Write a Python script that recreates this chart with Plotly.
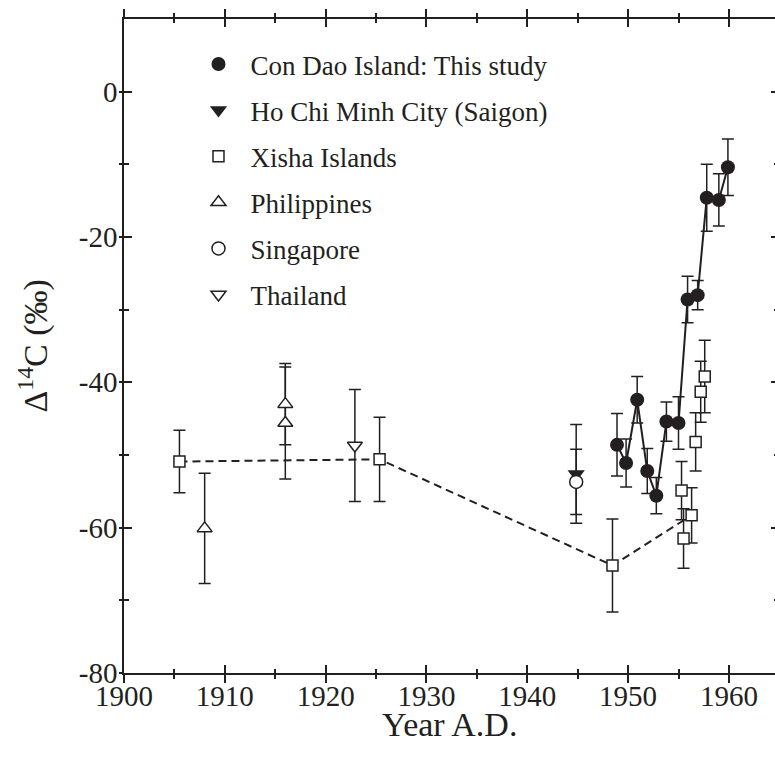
import plotly.graph_objects as go

# ---------------- data ----------------
condao_year = [1948.9, 1949.8, 1950.9, 1951.9, 1952.8, 1953.8, 1955.0, 1955.9, 1956.9, 1957.8, 1959.0, 1959.9]
condao_d14c = [-48.6, -51.1, -42.4, -52.2, -55.6, -45.4, -45.6, -28.6, -28.0, -14.6, -14.9, -10.4]
condao_err = [4.3, 3.3, 3.2, 3.1, 2.5, 2.7, 3.6, 3.2, 2.0, 4.6, 3.6, 3.9]

hcmc_year = [1944.85]
hcmc_d14c = [-52.6]
hcmc_err = [6.8]

xisha_year = [1905.5, 1925.35, 1948.45, 1955.3, 1955.5, 1956.3, 1956.7, 1957.2, 1957.6]
xisha_d14c = [-50.9, -50.6, -65.2, -54.9, -61.5, -58.3, -48.2, -41.3, -39.2]
xisha_err = [4.3, 5.8, 6.4, 4.0, 4.1, 3.8, 4.0, 4.2, 5.0]

xisha_trend_year = [1905.5, 1925.35, 1948.45, 1956.3]
xisha_trend_d14c = [-50.9, -50.6, -65.2, -58.3]

phil_year = [1908.0, 1916.0, 1916.0]
phil_d14c = [-60.1, -43.0, -45.6]
phil_err = [7.6, 5.6, 7.7]

sing_year = [1944.85]
sing_d14c = [-53.7]
sing_err = [4.5]

thai_year = [1922.9]
thai_d14c = [-48.7]
thai_err = [7.7]

x_major = [1900, 1910, 1920, 1930, 1940, 1950, 1960]
x_minor = [1905, 1915, 1925, 1935, 1945, 1955]
y_major = [-80, -60, -40, -20, 0]
y_minor = [-70, -50, -30, -10]
y_labels = ["-80", "-60", "-40", "-20", "0"]

x_title = "Year A.D."
y_title = "Δ<sup>14</sup>C (‰)"

# ---------------- style ----------------
INK = "#231f20"
FONT = "Liberation Serif"
XR = [1900, 1964.57]
YR = [-80, 10]


def ebar(err):
    return dict(type="data", array=err, visible=True, color=INK, thickness=1.5, width=6)


fig = go.Figure()

# Xisha dashed connecting line
fig.add_trace(go.Scatter(x=xisha_trend_year, y=xisha_trend_d14c, mode="lines",
                         line=dict(color=INK, width=2, dash="8px,5px"),
                         showlegend=False, hoverinfo="skip"))
# Con Dao solid line
fig.add_trace(go.Scatter(x=condao_year, y=condao_d14c, mode="lines",
                         line=dict(color=INK, width=2),
                         showlegend=False, hoverinfo="skip"))

fig.add_trace(go.Scatter(name="Con Dao Island: This study", x=condao_year, y=condao_d14c,
                         mode="markers", error_y=ebar(condao_err), legendgroup="a",
                         marker=dict(symbol="circle", size=14, color=INK, line=dict(width=0))))
fig.add_trace(go.Scatter(name="Ho Chi Minh City (Saigon)", x=hcmc_year, y=hcmc_d14c,
                         mode="markers", error_y=ebar(hcmc_err), legendgroup="b",
                         marker=dict(symbol="triangle-down", size=15, color=INK, line=dict(width=0))))
fig.add_trace(go.Scatter(name="Xisha Islands", x=xisha_year, y=xisha_d14c,
                         mode="markers", error_y=ebar(xisha_err), legendgroup="c",
                         marker=dict(symbol="square", size=11, color="white", line=dict(width=1.5, color=INK))))
fig.add_trace(go.Scatter(name="Philippines", x=phil_year, y=phil_d14c,
                         mode="markers", error_y=ebar(phil_err), legendgroup="d",
                         marker=dict(symbol="triangle-up", size=13, color="white", line=dict(width=1.5, color=INK))))
fig.add_trace(go.Scatter(name="Singapore", x=sing_year, y=sing_d14c,
                         mode="markers", error_y=ebar(sing_err), legendgroup="e",
                         marker=dict(symbol="circle", size=13, color="white", line=dict(width=1.5, color=INK))))
fig.add_trace(go.Scatter(name="Thailand", x=thai_year, y=thai_d14c,
                         mode="markers", error_y=ebar(thai_err), legendgroup="f",
                         marker=dict(symbol="triangle-down", size=13, color="white", line=dict(width=1.5, color=INK))))

# empty traces so the overlay axes (inner tick halves / right ticks) exist
fig.add_trace(go.Scatter(x=[], y=[], xaxis="x2", yaxis="y2", showlegend=False, hoverinfo="skip"))
fig.add_trace(go.Scatter(x=[], y=[], xaxis="x", yaxis="y3", showlegend=False, hoverinfo="skip"))

tickfont = dict(family=FONT, size=29, color=INK)
titlefont = dict(family=FONT, size=34, color=INK)

fig.update_layout(
    width=775, height=759,
    margin=dict(l=124, r=0, t=19, b=86),
    paper_bgcolor="white", plot_bgcolor="white",
    font=dict(family=FONT, color=INK),
    showlegend=True,
    legend=dict(x=0.096, y=0.968, xanchor="left", yanchor="top",
                font=dict(family=FONT, size=27, color=INK),
                bgcolor="rgba(0,0,0,0)", borderwidth=0,
                itemwidth=54, traceorder="grouped", tracegroupgap=8),
    xaxis=dict(range=XR, showgrid=False, zeroline=False,
               showline=True, linecolor=INK, linewidth=1.5, mirror="ticks",
               tickmode="array", tickvals=x_major, ticktext=[str(v) for v in x_major],
               ticks="outside", ticklen=8, tickwidth=1.5, tickcolor=INK,
               minor=dict(tickmode="array", tickvals=x_minor, ticks="outside",
                          ticklen=4, tickwidth=1.5, tickcolor=INK),
               tickfont=tickfont, ticklabelstandoff=-12, automargin=False),
    xaxis2=dict(range=XR, overlaying="x", anchor="y2", side="bottom",
                showgrid=False, zeroline=False, showline=False, mirror="ticks",
                tickmode="array", tickvals=x_major, showticklabels=False,
                ticks="inside", ticklen=8, tickwidth=1.5, tickcolor=INK,
                minor=dict(tickmode="array", tickvals=x_minor, ticks="inside",
                           ticklen=4, tickwidth=1.5, tickcolor=INK)),
    yaxis=dict(range=YR, showgrid=False, zeroline=False,
               showline=True, linecolor=INK, linewidth=1.5, mirror=False,
               tickmode="array", tickvals=y_major, ticktext=y_labels,
               ticks="outside", ticklen=3, tickwidth=1.5, tickcolor=INK,
               minor=dict(tickmode="array", tickvals=y_minor, ticks="outside",
                          ticklen=3, tickwidth=1.5, tickcolor=INK),
               tickfont=tickfont, ticklabelstandoff=-4, automargin=False),
    yaxis2=dict(range=YR, overlaying="y", anchor="x2", side="left",
                showgrid=False, zeroline=False, showline=False,
                tickmode="array", tickvals=y_major, showticklabels=False,
                ticks="inside", ticklen=8, tickwidth=1.5, tickcolor=INK,
                minor=dict(tickmode="array", tickvals=y_minor, ticks="inside",
                           ticklen=5, tickwidth=1.5, tickcolor=INK)),
    yaxis3=dict(range=YR, overlaying="y", anchor="x", side="right",
                showgrid=False, zeroline=False, showline=False,
                tickmode="array", tickvals=y_major, showticklabels=False,
                ticks="inside", ticklen=4, tickwidth=1.5, tickcolor=INK,
                minor=dict(tickmode="array", tickvals=y_minor, ticks="inside",
                           ticklen=1.5, tickwidth=1.5, tickcolor=INK)),
    annotations=[
        dict(text=x_title, xref="paper", yref="paper", x=0.5, y=(673.3 - 725) / 654.4,
             xanchor="center", yanchor="middle", showarrow=False, font=titlefont),
        dict(text=y_title, xref="paper", yref="paper", x=(32 - 123.5) / 651.5, y=0.5,
             xanchor="center", yanchor="middle", textangle=-90, showarrow=False, font=titlefont),
    ],
)

fig.write_html("out.html",
               config={"displayModeBar": False},
               post_script="document.body.style.margin='0';"
                           "document.documentElement.style.overflow='hidden';")
